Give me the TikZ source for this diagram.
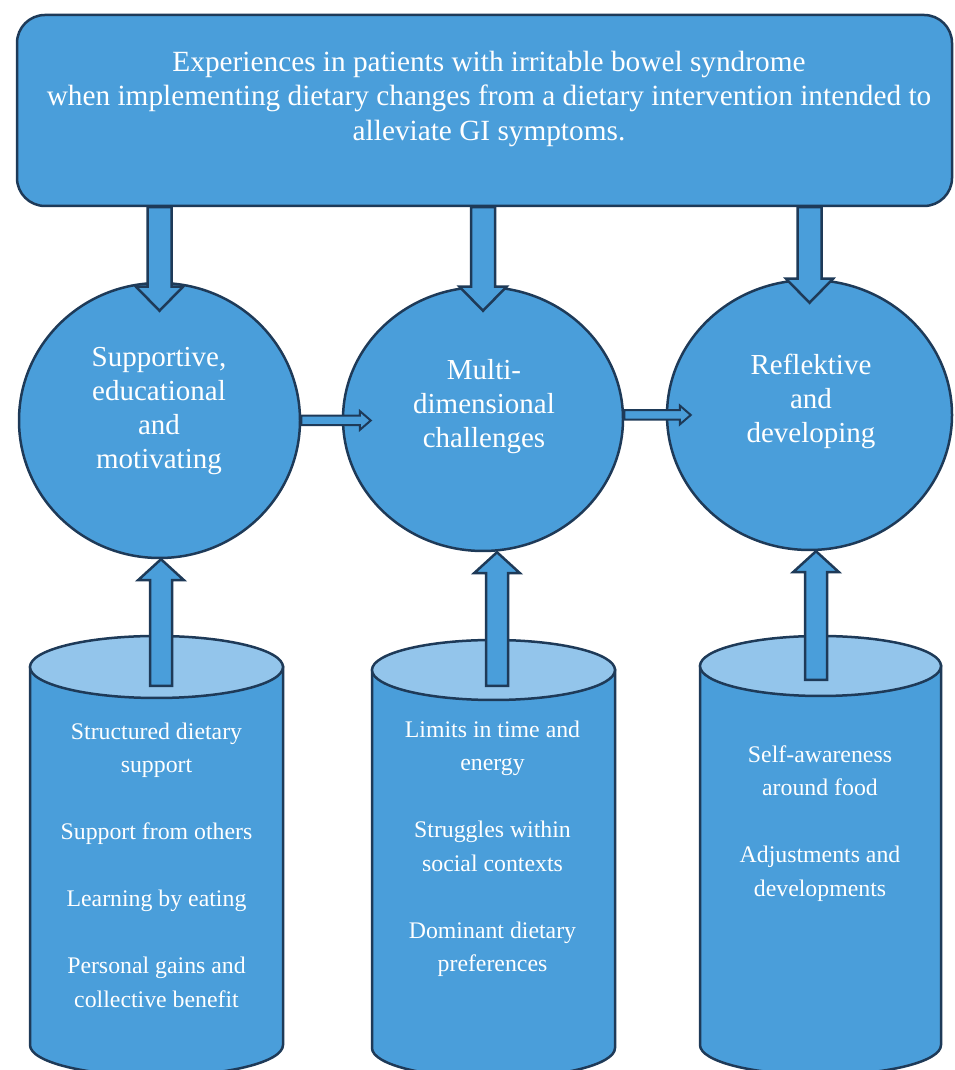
\documentclass[tikz,border=0pt]{standalone}
\usepackage{fontspec}
\setmainfont{Liberation Serif}
\usetikzlibrary{calc,positioning,shapes.geometric}

\definecolor{boxblue}{RGB}{74,158,218}
\definecolor{lidblue}{RGB}{147,197,235}
\definecolor{edgenavy}{RGB}{30,58,88}

% block arrow: [style] from, to, shaft half width, head half width, head length
\newcommand{\blockarrow}[6][]{%
  \path ($(#3)!#6!(#2)$) coordinate (hb);
  \draw[blockarrow,#1] ($(#2)!#4!90:(#3)$) -- ($(hb)!#4!90:(#3)$)
    -- ($(hb)!#5!90:(#3)$) -- (#3) -- ($(hb)!#5!-90:(#3)$)
    -- ($(hb)!#4!-90:(#3)$) -- ($(#2)!#4!-90:(#3)$) -- cycle;}

% drum: name, centre x, top y, bottom y, half width, end radius
\newcommand{\drum}[6]{%
  \draw[drumside] (#2-#5,#3) -- (#2-#5,#4)
    arc[start angle=180, end angle=360, x radius=#5, y radius=#6] -- (#2+#5,#3) -- cycle;
  \draw[drumlid] (#2,#3) ellipse[x radius=#5, y radius=#6];
  \coordinate (#1) at (#2,#3);}

\tikzset{
  hdr/.style={draw=edgenavy, fill=boxblue, line width=2.5pt, rounded corners=28pt,
    minimum width=935pt, minimum height=191pt, inner sep=0pt},
  titletext/.style={text=white, align=center, font=\fontsize{29.3}{34.5}\selectfont},
  theme/.style={ellipse, draw=edgenavy, fill=boxblue, line width=2.5pt, inner sep=0pt},
  themetext/.style={text=white, align=center, font=\fontsize{29}{34.3}\selectfont},
  drumside/.style={draw=edgenavy, fill=boxblue, line width=2.5pt},
  drumlid/.style={draw=edgenavy, fill=lidblue, line width=2.5pt},
  drumtext/.style={text=white, align=center, font=\fontsize{23.8}{33.5}\selectfont},
  blockarrow/.style={draw=edgenavy, fill=boxblue, line width=2.5pt, line join=miter},
}

\begin{document}
\begin{tikzpicture}[x=1pt, y=1pt]

    \useasboundingbox (0,0) rectangle (954,1070);

    \node[hdr] (hdr) at (484.5,959.5) {};
    \node[titletext] (ttl) at (489,971) {Experiences in patients with irritable bowel syndrome\\
      when implementing dietary changes from a dietary intervention intended to\\
      alleviate GI symptoms.};

    \node[theme, minimum width=281pt, minimum height=275pt] (cA) at (159.5,649.5) {};
    \node[theme, minimum width=280pt, minimum height=264pt] (cB) at (483,651) {};
    \node[theme, minimum width=285pt, minimum height=270pt] (cC) at (809.5,655) {};

    \drum{drumA}{156.5}{403}{25}{126.5}{31}
    \drum{drumB}{493.5}{400}{22}{121.5}{30}
    \drum{drumC}{820.5}{404}{25}{120.5}{30}

    % arrows from the header down into the themes
    \coordinate (dnA) at (cA |- hdr.south);
    \coordinate (dnB) at (cB |- hdr.south);
    \coordinate (dnC) at (cC |- hdr.south);
    \coordinate (dnAtip) at ($(cA.north)+(0,-29)$);
    \coordinate (dnBtip) at ($(cB.north)+(0,-25)$);
    \coordinate (dnCtip) at ($(cC.north)+(0,-24)$);
    \blockarrow{dnA}{dnAtip}{12pt}{23.5pt}{24pt}
    \blockarrow{dnB}{dnBtip}{12pt}{23.5pt}{24pt}
    \blockarrow{dnC}{dnCtip}{12pt}{23.5pt}{24pt}

    % arrows between the themes
    \coordinate (rtA) at (cA.east);
    \coordinate (rtAtip) at ($(cB.west |- cA.east)+(29,0)$);
    \coordinate (rtB) at (cB.east |- cC.west);
    \coordinate (rtBtip) at ($(cC.west)+(25,0)$);
    \blockarrow[line width=2pt]{rtA}{rtAtip}{4.75pt}{9.5pt}{11pt}
    \blockarrow[line width=2pt]{rtB}{rtBtip}{4.75pt}{9.5pt}{11pt}

    % arrows from the drums up to the themes
    \coordinate (upA) at (161,384);
    \coordinate (upB) at (497,384);
    \coordinate (upC) at (816,390);
    \coordinate (upAtip) at (upA |- cA.south);
    \coordinate (upBtip) at (upB |- cB.south);
    \coordinate (upCtip) at (upC |- cC.south);
    \blockarrow{upA}{upAtip}{11pt}{23pt}{21pt}
    \blockarrow{upB}{upBtip}{11pt}{23pt}{21pt}
    \blockarrow{upC}{upCtip}{11pt}{23pt}{21pt}

    \node[themetext] (tA) at (159,659) {Supportive,\\educational\\and\\motivating};
    \node[themetext] (tB) at (484,663.5) {Multi-\\dimensional\\challenges};
    \node[themetext] (tC) at (811,668.5) {Reflektive\\and\\developing};

    \node[drumtext] (sA) at (156.5,205) {Structured dietary\\support\\[33.5pt]
      Support from others\\[33.5pt]Learning by eating\\[33.5pt]
      Personal gains and\\collective benefit};
    \node[drumtext] (sB) at (492.5,221) {Limits in time and\\energy\\[33.5pt]
      Struggles within\\social contexts\\[33.5pt]
      Dominant dietary\\preferences};
    \node[drumtext] (sC) at (820,246.5) {Self-awareness\\around food\\[33.5pt]
      Adjustments and\\developments};

\end{tikzpicture}
\end{document}
